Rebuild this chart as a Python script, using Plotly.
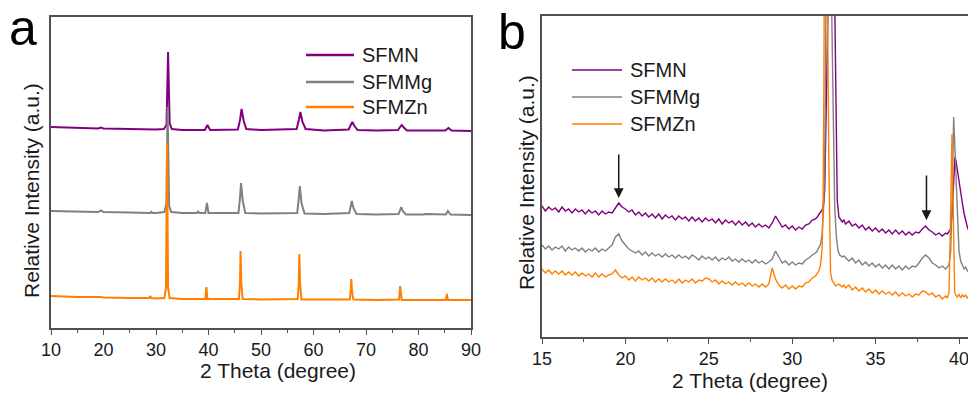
import plotly.graph_objects as go

W, H = 968, 394
FONT = "Liberation Sans, Arial, sans-serif"
TXT = "#1a1a1a"
AX = "#505050"

names = ["SFMN", "SFMMg", "SFMZn"]
colors = ["#800080", "#808080", "#ff8000"]

# ---------------- Panel a: full patterns (offset stacked) ----------------
a_sfmn_x = [10, 15, 19, 19.5, 20, 25, 29, 30, 31.5, 32.0, 32.3, 32.6, 33.0, 35, 39.3, 39.8, 40.3,
            45.6, 46.0, 46.3, 46.7, 47.2, 50, 56.8, 57.2, 57.5, 57.9, 58.5, 62, 66.7, 67.1, 67.4,
            67.8, 68.4, 72, 76.1, 76.5, 76.8, 77.2, 77.8, 81, 85.1, 85.7, 86.3, 90]
a_sfmn_y = [201, 200, 199.5, 200.5, 199.5, 199, 198.5, 198.5, 199, 203, 276, 205, 199, 198, 198, 203, 198,
            198.5, 208, 219, 207, 199, 198, 199, 208, 216, 206, 199, 197.5, 198.5, 203, 206,
            202, 198, 197.5, 198, 201, 203, 200.5, 197.5, 197.5, 197.5, 200, 197.5, 197]

a_sfmmg_x = [10, 15, 19, 19.5, 20, 25, 28.9, 29.1, 29.3, 30, 31.6, 32.0, 32.2, 32.5, 32.9, 35,
             37.8, 38.0, 38.3, 39.4, 39.7, 40.0, 45.7, 46.0, 46.2, 46.5, 47.0, 50, 56.9, 57.2,
             57.4, 57.7, 58.3, 62, 66.8, 67.1, 67.3, 67.6, 68.2, 72, 76.2, 76.5, 76.7, 77.0,
             77.6, 81, 81.3, 85.2, 85.6, 86.1, 90]
a_sfmmg_y = [117, 116.5, 116, 117.5, 116, 115.5, 115, 116, 115, 115, 116, 125, 221, 122, 116, 115,
             115, 116.5, 115, 115, 125, 115, 115, 130, 145, 128, 115, 114.5, 115, 130,
             142, 125, 114.5, 114, 115, 122, 127, 120, 114, 113.5, 114, 118, 121, 117,
             113.5, 113.5, 114, 113.5, 117, 113.5, 113]

a_sfmzn_x = [10, 15, 19.4, 20, 25, 28.7, 28.9, 29.1, 30, 31.6, 31.9, 32.1, 32.3, 32.6, 35,
             39.4, 39.6, 39.8, 45.8, 46.0, 46.1, 46.25, 46.5, 50, 57.0, 57.2, 57.3, 57.45, 57.7,
             62, 66.9, 67.1, 67.2, 67.35, 67.6, 72, 76.3, 76.5, 76.6, 76.8, 81, 85.2, 85.4,
             85.6, 90]
a_sfmzn_y = [32, 31, 31, 30.5, 30, 30, 32, 30, 29.5, 30, 40, 185, 40, 30, 29,
             29, 41, 29, 29, 45, 77, 45, 29, 28.5, 29, 45, 74, 44, 28.5,
             28.5, 28.5, 38, 49, 36, 28.5, 28, 28.5, 42, 37, 28, 28, 28, 34,
             28, 28]

# ---------------- Panel b: zoomed 15-40 degree region ----------------
# baseline scans sampled every 0.2 degree (segment 1: 15.0-31.4, segment 2: 33.2-39.2)
b_step = 0.2
b_seg1_start = 15.0
b_seg2_start = 33.2

b_sfmn_seg1 = [131, 126, 130, 127, 129, 125, 130, 126, 128, 124, 128, 125, 127, 123, 127, 124, 126, 122,
               126, 123, 125, 124, 129, 134, 130, 128, 125, 127, 122, 125, 121, 124, 120, 123, 119, 123,
               118, 122, 119, 121, 117, 121, 118, 120, 116, 120, 116, 119, 115, 119, 116, 118, 114, 118,
               113, 117, 114, 116, 112, 116, 112, 115, 111, 114, 110, 113, 110, 112, 109, 114, 121, 116,
               110, 112, 108, 111, 107, 110, 108, 112, 113, 117, 118]
b_sfmn_seg2 = [113, 116, 111, 113, 109, 112, 107, 110, 106, 109, 105, 108, 104, 107, 103, 107, 103, 106,
               102, 105, 102, 105, 104, 108, 111, 107, 105, 102, 104, 101, 104]
b_sfmn_pk1_x = [31.5, 31.6, 31.7, 31.8, 31.9, 31.95, 32.05, 32.15, 32.35, 32.5, 32.6, 32.7, 32.8, 32.9, 33.0, 33.1]
b_sfmn_pk1_y = [120, 123, 125, 127, 135, 147, 237, 330, 600, 400, 270, 137, 120, 118, 115, 117]
b_sfmn_pk2_x = [39.3, 39.4, 39.5, 39.6, 39.68, 39.75, 39.82, 39.9, 40.0, 40.1, 40.2, 40.3, 40.4, 40.5, 40.6]
b_sfmn_pk2_y = [103, 106, 108, 125, 155, 180, 176, 166, 157, 146, 134, 124, 116, 110, 106]

b_sfmmg_seg1 = [92, 88, 91, 87, 90, 88, 91, 86, 90, 87, 89, 86, 89, 85, 88, 86, 89, 85, 88, 86, 89, 92,
                100, 103, 96, 92, 88, 86, 84, 86, 82, 85, 81, 84, 81, 83, 80, 83, 80, 82, 79, 82, 79,
                81, 78, 82, 80, 77, 81, 78, 80, 77, 80, 76, 79, 77, 80, 76, 78, 75, 78, 75, 77, 74,
                77, 74, 76, 73, 75, 78, 86, 80, 74, 76, 72, 75, 72, 74, 73, 77, 79, 82, 84]
b_sfmmg_seg2 = [79, 76, 79, 74, 77, 72, 75, 71, 74, 70, 73, 69, 72, 68, 72, 68, 71, 67, 71, 68, 71, 70,
                74, 79, 82, 79, 74, 72, 69, 71, 68]
b_sfmmg_pk1_x = [31.5, 31.6, 31.7, 31.8, 31.9, 31.95, 32.02, 32.15, 32.3, 32.45, 32.55, 32.65, 32.75, 32.85, 33.0, 33.1]
b_sfmmg_pk1_y = [86, 89, 93, 104, 135, 170, 300, 600, 400, 204, 130, 100, 86, 82, 80, 81]
b_sfmmg_pk2_x = [39.3, 39.4, 39.5, 39.58, 39.68, 39.76, 39.84, 39.92, 40.0, 40.1, 40.2, 40.3, 40.4, 40.5, 40.6]
b_sfmmg_pk2_y = [70, 72, 85, 130, 220, 185, 140, 105, 86, 76, 71, 68, 70, 66, 67]

b_sfmzn_seg1 = [68, 64, 67, 63, 66, 63, 66, 62, 65, 62, 65, 61, 64, 61, 63, 60, 64, 60, 63, 60, 62, 63,
                67, 62, 59, 61, 57, 60, 56, 60, 57, 59, 56, 59, 55, 58, 55, 58, 55, 57, 54, 58, 54,
                57, 55, 58, 54, 57, 56, 59, 58, 55, 57, 53, 56, 53, 55, 52, 55, 52, 54, 51, 54, 51,
                53, 50, 53, 50, 53, 69, 58, 52, 49, 52, 48, 51, 48, 51, 50, 54, 55, 59, 61]
b_sfmzn_seg2 = [49, 52, 47, 50, 46, 49, 45, 48, 44, 47, 43, 46, 43, 45, 42, 45, 41, 44, 41, 43, 40, 43,
                42, 46, 45, 42, 44, 40, 42, 38, 41]
b_sfmzn_pk1_x = [31.5, 31.6, 31.7, 31.8, 31.85, 31.9, 31.98, 32.08, 32.2, 32.3, 32.4, 32.5, 32.6, 32.8, 33.0, 33.1]
b_sfmzn_pk1_y = [63, 66, 72, 90, 137, 250, 600, 400, 170, 64, 56, 54, 51, 53, 50, 52]
b_sfmzn_pk2_x = [39.3, 39.4, 39.47, 39.53, 39.58, 39.63, 39.68, 39.74, 39.8, 39.9, 40.0, 40.1, 40.2, 40.3, 40.4, 40.5, 40.6]
b_sfmzn_pk2_y = [39, 44, 100, 180, 203, 150, 70, 45, 42, 40, 43, 39, 42, 40, 42, 39, 41]

arrow_x = [19.6, 38.05]
arrow_tail_y = [184, 163]
arrow_head_y = [139, 117]


def assemble(seg1, pk1x, pk1y, seg2, pk2x, pk2y):
    xs = [round(b_seg1_start + b_step * i, 3) for i in range(len(seg1))]
    ys = list(seg1)
    xs += pk1x
    ys += pk1y
    xs += [round(b_seg2_start + b_step * i, 3) for i in range(len(seg2))]
    ys += seg2
    xs += pk2x
    ys += pk2y
    pts = sorted(zip(xs, ys))
    return [p[0] for p in pts], [p[1] for p in pts]


a_data = [(a_sfmn_x, a_sfmn_y), (a_sfmmg_x, a_sfmmg_y), (a_sfmzn_x, a_sfmzn_y)]
b_data = [
    assemble(b_sfmn_seg1, b_sfmn_pk1_x, b_sfmn_pk1_y, b_sfmn_seg2, b_sfmn_pk2_x, b_sfmn_pk2_y),
    assemble(b_sfmmg_seg1, b_sfmmg_pk1_x, b_sfmmg_pk1_y, b_sfmmg_seg2, b_sfmmg_pk2_x, b_sfmmg_pk2_y),
    assemble(b_sfmzn_seg1, b_sfmzn_pk1_x, b_sfmzn_pk1_y, b_sfmzn_seg2, b_sfmzn_pk2_x, b_sfmzn_pk2_y),
]

fig = go.Figure()
for (x, y), n, c in zip(a_data, names, colors):
    fig.add_trace(go.Scatter(x=x, y=y, mode="lines", name=n, line=dict(color=c, width=2),
                             xaxis="x", yaxis="y", showlegend=False))
for (x, y), n, c in zip(b_data, names, colors):
    fig.add_trace(go.Scatter(x=x, y=y, mode="lines", name=n, line=dict(color=c, width=1.4),
                             xaxis="x2", yaxis="y2", showlegend=False))


def px_x(p):
    return p / W


def px_y(p):
    return (H - p) / H


common_x = dict(showline=True, linecolor=AX, linewidth=1.5, ticks="outside", ticklen=5,
                tickwidth=1.3, tickcolor=AX, showgrid=False, zeroline=False, automargin=False,
                ticklabeloverflow="allow",
                tickfont=dict(size=18, color=TXT, family=FONT))
common_y = dict(showline=True, linecolor=AX, linewidth=1.5, showticklabels=False, ticks="",
                showgrid=False, zeroline=False, automargin=False)

fig.update_layout(
    template="none",
    width=W, height=H,
    margin=dict(l=0, r=0, t=0, b=0, pad=0, autoexpand=False),
    paper_bgcolor="white", plot_bgcolor="white",
    font=dict(family=FONT, color=TXT),
    showlegend=False,
    xaxis=dict(domain=[px_x(51), px_x(471)], range=[10, 90], dtick=10, mirror=True,
               minor=dict(dtick=5, ticks="outside", ticklen=3, tickcolor=AX, tickwidth=1.3),
               anchor="y", **common_x),
    yaxis=dict(domain=[px_y(328), px_y(17)], range=[0, 311], mirror=True, anchor="x", **common_y),
    xaxis2=dict(domain=[px_x(542), 1.0], range=[15, 15 + (968 - 542) / 16.68], dtick=5,
                mirror=True,
                minor=dict(dtick=2.5, ticks="outside", ticklen=3, tickcolor=AX, tickwidth=1.3),
                anchor="y2", **common_x),
    yaxis2=dict(domain=[px_y(337), px_y(16)], range=[0, 321], mirror=False, anchor="x2", **common_y),
)


def label(text, x, y, size, angle=0, xanchor="center", color=TXT):
    return dict(text=text, x=px_x(x), y=px_y(y), xref="paper", yref="paper", showarrow=False,
                xanchor=xanchor, yanchor="middle", textangle=angle,
                font=dict(size=size, color=color, family=FONT))


ann = [
    label("a", 23, 28, 50, color="black"),
    label("b", 512, 32, 50, color="black"),
    label("2 Theta (degree)", 278, 370, 21),
    label("2 Theta (degree)", 750, 380, 21),
    label("Relative Intensity (a.u.)", 32, 191, 21, angle=-90),
    label("Relative Intensity (a.u.)", 526, 183, 21, angle=-90),
]
for xa, yt, yh in zip(arrow_x, arrow_tail_y, arrow_head_y):
    ann.append(dict(x=xa, y=yh, ax=xa, ay=yt, xref="x2", yref="y2", axref="x2", ayref="y2",
                    text="", showarrow=True, arrowhead=2, arrowsize=1.3, arrowwidth=1.5,
                    arrowcolor="#1a1a1a", standoff=0))

# legends (one per panel), drawn as sample lines + labels
shapes = []
legend_specs = [
    dict(x0=306, x1=354, tx=360, rows=[55, 82, 107], width=2.5),
    dict(x0=572, x1=622, tx=628, rows=[70, 97, 124], width=1.6),
]
for spec in legend_specs:
    for n, c, ry in zip(names, colors, spec["rows"]):
        shapes.append(dict(type="line", xref="paper", yref="paper",
                           x0=px_x(spec["x0"]), x1=px_x(spec["x1"]), y0=px_y(ry), y1=px_y(ry),
                           line=dict(color=c, width=spec["width"])))
        ann.append(label(n, spec["tx"], ry, 20, xanchor="left"))

fig.update_layout(annotations=ann, shapes=shapes)

fig.write_html("out.html")
